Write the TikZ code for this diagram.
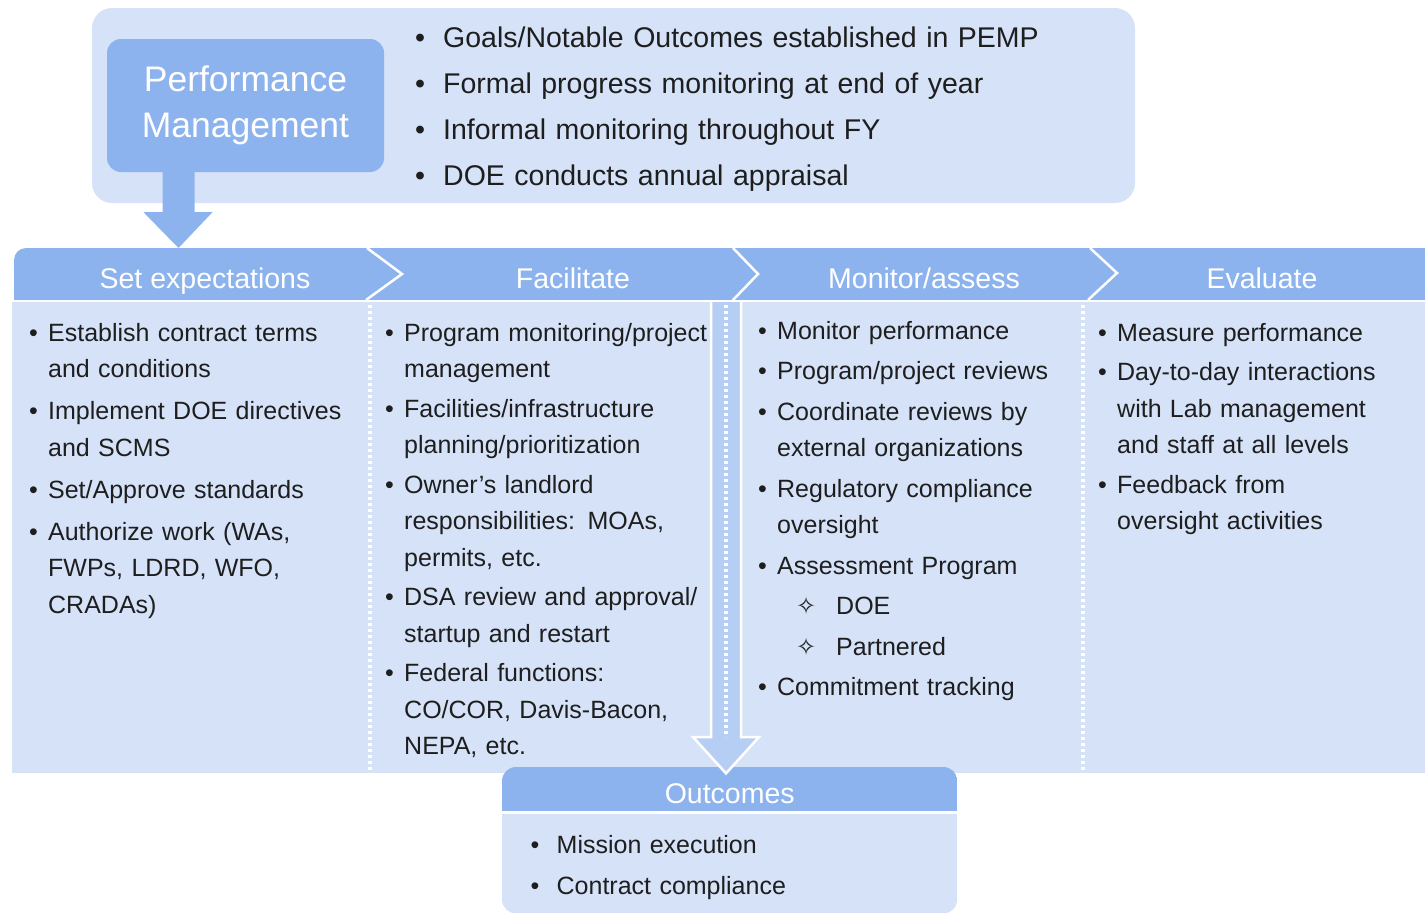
\documentclass[tikz,border=0pt]{standalone}
\usepackage{fontspec}
\setmainfont{Liberation Sans}
\newfontfamily\symfont{DejaVu Sans}
\usetikzlibrary{calc}

\definecolor{paneblue}{HTML}{D5E2F8}
\definecolor{barblue}{HTML}{8DB3EE}
\definecolor{flowblue}{HTML}{B7CEF4}
\definecolor{inktext}{HTML}{1E1E1E}

% bullet item and sub item for the lists
\newlength{\itemgap}
\setlength{\itemgap}{3pt}
\newcommand{\itm}[2][19pt]{\setlength{\parskip}{\itemgap}\hangindent=#1\hangafter=1\makebox[#1][l]{\textbullet}#2\par}
\newcommand{\subitm}[1]{\makebox[78pt][l]{\hspace*{38pt}{\symfont\fontsize{24}{24}\selectfont ✧}}#1\par}

\begin{document}
\begin{tikzpicture}[x=1pt, y=-1pt,
        panel/.style={fill=paneblue, inner sep=0pt},
        pmbox/.style={fill=barblue, rounded corners=14pt, minimum width=277pt, minimum height=133pt, text=white, align=center, font=\fontsize{35.5}{46}\selectfont},
        hdrlabel/.style={text=white, anchor=base, inner sep=0pt, font=\fontsize{28.5}{34}\selectfont},
        column/.style={anchor=base west, inner sep=0pt, text width=360pt, text=inktext, font=\fontsize{25}{36.5}\selectfont},
        divider/.style={white, line width=3.2pt, dash pattern=on 3pt off 3pt},
        chevron/.style={white, line width=2.5pt, line join=miter}
    ]
        \useasboundingbox (0,0) rectangle (1425,914);

        % Top panel: performance management
        \node[panel, rounded corners=20pt, minimum width=1043pt, minimum height=195pt] (toppanel) at (613.5,105.5) {};
        \node[pmbox] (pm) at (245.5,105.5) {Performance\\Management};
        \node[column, text width=700pt, font=\fontsize{28.5}{43}\selectfont] (pmlist) at (415,47) {%
            \itm[28pt]{Goals/Notable Outcomes established in PEMP}%
            \itm[28pt]{Formal progress monitoring at end of year}%
            \itm[28pt]{Informal monitoring throughout FY}%
            \itm[28pt]{DOE conducts annual appraisal}};

        % Phase band with chevrons
        \node[inner sep=0pt, minimum width=1430pt, minimum height=52pt, anchor=north west] (band) at (14,248) {};
        \begin{scope}
            \clip[rounded corners=12pt] (band.north west) rectangle ($(band.south east)+(0,30)$);
            \fill[barblue] (band.north west) rectangle (band.south east);
        \end{scope}
        \draw[chevron] (367,248) -- (402,274) -- (366,300);
        \draw[chevron] (733,248) -- (758,274) -- (733,300);
        \draw[chevron] (1090,248) -- (1117,273) -- (1088,300);

        \node[hdrlabel] (hset) at (205,288) {Set expectations};
        \node[hdrlabel] (hfac) at (573,288) {Facilitate};
        \node[hdrlabel] (hmon) at (924,288) {Monitor/assess};
        \node[hdrlabel] (heval) at (1262,288) {Evaluate};

        % Arrow from performance management down to the band
        \coordinate (pmfoot) at ($(pm.south)+(-67,0)$);
        \fill[barblue] ($(pmfoot)+(-16,-2)$) -- ($(pmfoot)+(-16,40)$) -- ($(pmfoot)+(-35,40)$)
            -- (pmfoot |- band.north) -- ($(pmfoot)+(34,40)$) -- ($(pmfoot)+(16,40)$) -- ($(pmfoot)+(16,-2)$) -- cycle;

        % Body panel under the band
        \node[panel, minimum width=1430pt, minimum height=471pt, anchor=north west] (body) at (12,302) {};

        % Outcomes box
        \node[inner sep=0pt, minimum width=455pt, minimum height=146pt, anchor=north west] (outbox) at (502,767) {};
        \begin{scope}
            \clip[rounded corners=14pt] (outbox.north west) rectangle (outbox.south east);
            \fill[barblue] (outbox.north west) rectangle ($(outbox.north east)+(0,44)$);
            \fill[paneblue] ($(outbox.north west)+(0,47)$) rectangle (outbox.south east);
        \end{scope}
        \node[hdrlabel] (outhead) at ($(outbox.north)+(0,36)$) {Outcomes};
        \node[column, font=\fontsize{25}{38}\selectfont] (outlist) at (530.5,853) {%
            \itm[26pt]{Mission execution}%
            \itm[26pt]{Contract compliance}};

        % Flow arrow down to outcomes
        \coordinate (flowtop) at (726,302);
        \filldraw[fill=flowblue, draw=white, line width=2.5pt, line join=miter]
            ($(flowtop)+(15,0)$) -- ($(flowtop)+(15,435)$) -- ($(flowtop)+(33,435)$)
            -- (flowtop |- body.south) -- ($(flowtop)+(-33,435)$) -- ($(flowtop)+(-15,435)$) -- ($(flowtop)+(-15,0)$);

        % Dotted dividers
        \coordinate (sepa) at (370,305);
        \coordinate (sepb) at (1083,305);
        \draw[divider] (sepa) -- (sepa |- body.south);
        \draw[divider] ($(flowtop)+(0,3)$) -- ($(flowtop)+(0,435)$);
        \draw[divider] (sepb) -- (sepb |- body.south);

        % Column lists
        \node[column, font=\fontsize{25}{36.5}\selectfont\setlength{\itemgap}{5.5pt}] (colset) at (29,341) {%
            \itm{Establish contract terms\newline and conditions}%
            \itm{Implement DOE directives\newline and SCMS}%
            \itm{Set/Approve standards}%
            \itm{Authorize work (WAs,\newline FWPs, LDRD, WFO,\newline CRADAs)}};
        \node[column] (colfac) at (385,341) {%
            \itm{Program monitoring/project\newline management}%
            \itm{Facilities/infrastructure\newline planning/prioritization}%
            \itm{Owner’s landlord\newline responsibilities: MOAs,\newline permits, etc.}%
            \itm{DSA review and approval/\newline startup and restart}%
            \itm{Federal functions:\newline CO/COR, Davis-Bacon,\newline NEPA, etc.}};
        \node[column, font=\fontsize{25}{36.5}\selectfont\setlength{\itemgap}{4pt}] (colmon) at (758,339) {%
            \itm{Monitor performance}%
            \itm{Program/project reviews}%
            \itm{Coordinate reviews by\newline external organizations}%
            \itm{Regulatory compliance\newline oversight}%
            \itm{Assessment Program}%
            \subitm{DOE}%
            \subitm{Partnered}%
            \itm{Commitment tracking}};
        \node[column] (coleval) at (1098,341) {%
            \itm{Measure performance}%
            \itm{Day-to-day interactions\newline with Lab management\newline and staff at all levels}%
            \itm{Feedback from\newline oversight activities}};

\end{tikzpicture}
\end{document}
